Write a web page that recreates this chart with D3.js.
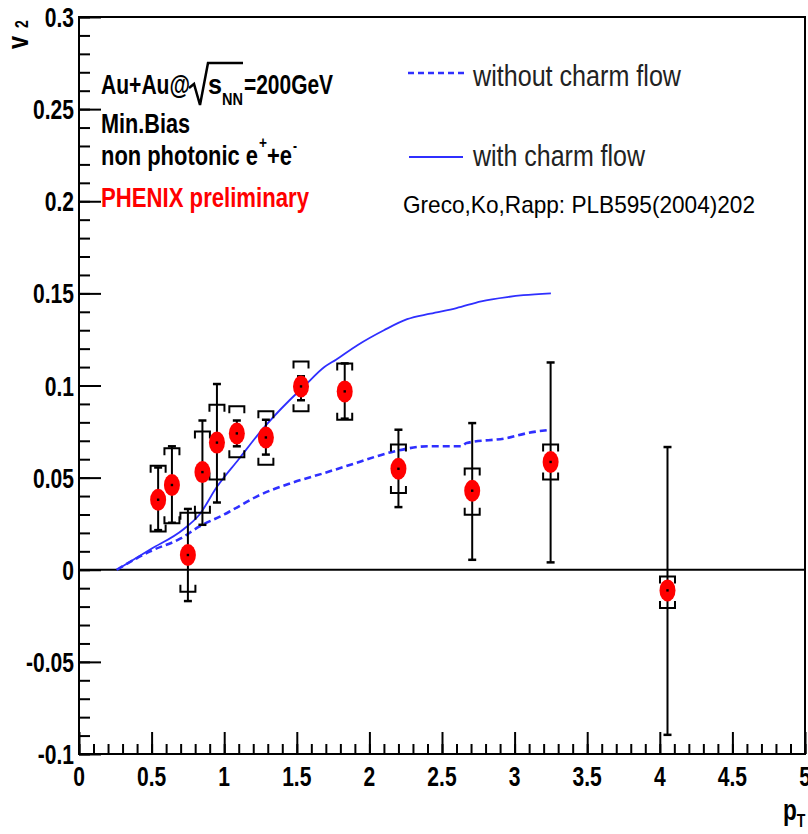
<!DOCTYPE html>
<html>
<head>
<meta charset="utf-8">
<script src="https://cdn.jsdelivr.net/npm/d3@7"></script>
<style>
  html, body { margin: 0; padding: 0; background: #fff; }
  svg { display: block; }
  text { font-family: "Liberation Sans", Arial, Helvetica, sans-serif; }
</style>
</head>
<body>
<div id="chart"></div>
<script>
// ---------------- data ----------------
const ptData   = [0.545, 0.64, 0.75, 0.85, 0.95, 1.087, 1.287, 1.529, 1.83, 2.2, 2.708, 3.248, 4.053];
const v2Data   = [0.038, 0.046, 0.008, 0.053, 0.069, 0.074, 0.0718, 0.0995, 0.0968, 0.0548, 0.0429, 0.0585, -0.0112];
const statHigh = [0.0555, 0.067, 0.033, 0.081, 0.1008, 0.081, 0.0814, 0.105, 0.112, 0.076, 0.0796, 0.1125, 0.0666];
const statLow  = [0.0215, 0.0255, -0.017, 0.0244, 0.0365, 0.067, 0.0625, 0.092, 0.082, 0.034, 0.0054, 0.004, -0.0896];
const sysHigh  = [0.0565, 0.066, 0.031, 0.075, 0.0896, 0.0887, 0.086, 0.113, 0.112, 0.068, 0.055, 0.068, -0.0036];
const sysLow   = [0.0208, 0.0253, -0.012, 0.031, 0.049, 0.061, 0.057, 0.086, 0.0814, 0.0416, 0.0298, 0.049, -0.0208];

// Greco, Ko, Rapp curves
const withFlowPt = [0.26, 0.49, 0.72, 0.83, 0.95, 1.1, 1.25, 1.45, 1.55, 1.69, 1.77, 1.92, 2.1, 2.26, 2.42, 2.6, 2.77, 2.95, 3.06, 3.25];
const withFlowV2 = [0.0, 0.011, 0.022, 0.030, 0.045, 0.060, 0.075, 0.092, 0.0995, 0.110, 0.114, 0.122, 0.130, 0.136, 0.139, 0.142, 0.1457, 0.148, 0.149, 0.150];
const noFlowPt = [0.26, 0.49, 0.70, 0.83, 1.0, 1.06, 1.23, 1.46, 1.69, 1.87, 1.94, 2.17, 2.4, 2.63, 2.67, 2.95, 3.09, 3.25];
const noFlowV2 = [0.0, 0.010, 0.017, 0.0235, 0.030, 0.0326, 0.040, 0.047, 0.0525, 0.057, 0.0588, 0.0642, 0.067, 0.067, 0.0688, 0.0715, 0.0742, 0.076];

const xTickValues = [0, 0.5, 1, 1.5, 2, 2.5, 3, 3.5, 4, 4.5, 5];
const xTickLabels = ["0", "0.5", "1", "1.5", "2", "2.5", "3", "3.5", "4", "4.5", "5"];
const yTickValues = [-0.1, -0.05, 0, 0.05, 0.1, 0.15, 0.2, 0.25, 0.3];
const yTickLabels = ["-0.1", "-0.05", "0", "0.05", "0.1", "0.15", "0.2", "0.25", "0.3"];

const legendLabels = ["without charm flow", "with charm flow"];
const infoLines = ["Min.Bias", "PHENIX preliminary"];
const citation = "Greco,Ko,Rapp: PLB595(2004)202";

// ---------------- layout ----------------
const W = 808, H = 834;
const L = 79, R = 805, T = 17, B = 754;
const blue = "#2f2fff";
const SX = 0.78; // horizontal squeeze of the original text

const svg = d3.select("#chart").append("svg").attr("width", W).attr("height", H);
svg.append("rect").attr("width", W).attr("height", H).attr("fill", "#fff");

const x = d3.scaleLinear().domain([0, 5]).range([L, R]);
const y = d3.scaleLinear().domain([-0.1, 0.3]).range([B, T]);

function stext(g, px, py, str, o) {
  o = o || {};
  return g.append("text")
    .attr("transform", `translate(${px},${py}) scale(${o.sx ?? SX},1)`)
    .attr("text-anchor", o.anchor || "start")
    .attr("font-size", o.size || 27)
    .attr("font-weight", o.weight || "bold")
    .attr("fill", o.fill || "#000")
    .text(str);
}

// ---------------- axes ----------------
const axG = svg.append("g");
axG.append("rect").attr("x", L).attr("y", T).attr("width", R - L).attr("height", B - T)
  .attr("fill", "none").attr("stroke", "#000").attr("stroke-width", 2);

const yMinor = d3.range(-10, 31).map(d => d / 100);
axG.append("g").attr("transform", `translate(${L},0)`)
  .call(d3.axisRight(y).tickValues(yMinor).tickSize(11).tickFormat(""))
  .call(g => g.select(".domain").remove())
  .call(g => g.selectAll("line").attr("stroke", "#000").attr("stroke-width", 2));
axG.append("g").attr("transform", `translate(${L},0)`)
  .call(d3.axisRight(y).tickValues(yTickValues).tickSize(22).tickFormat(""))
  .call(g => g.select(".domain").remove())
  .call(g => g.selectAll("line").attr("stroke", "#000").attr("stroke-width", 2));

const xMinor = d3.range(0, 51).map(d => d / 10);
axG.append("g").attr("transform", `translate(0,${B})`)
  .call(d3.axisTop(x).tickValues(xMinor).tickSize(10).tickFormat(""))
  .call(g => g.select(".domain").remove())
  .call(g => g.selectAll("line").attr("stroke", "#000").attr("stroke-width", 2));
axG.append("g").attr("transform", `translate(0,${B})`)
  .call(d3.axisTop(x).tickValues(xTickValues).tickSize(22).tickFormat(""))
  .call(g => g.select(".domain").remove())
  .call(g => g.selectAll("line").attr("stroke", "#000").attr("stroke-width", 2));

yTickValues.forEach((v, i) => stext(axG, 74, y(v) + 10, yTickLabels[i], { anchor: "end" }));
xTickValues.forEach((v, i) => stext(axG, x(v), 786, xTickLabels[i], { anchor: "middle" }));

axG.append("line").attr("x1", L).attr("x2", R).attr("y1", y(0)).attr("y2", y(0))
  .attr("stroke", "#000").attr("stroke-width", 2);

// axis titles (single text elements with subscript tspans)
const vt = axG.append("text").attr("transform", `translate(28,49) rotate(-90) scale(${SX},1)`)
  .attr("font-size", 30).attr("font-weight", "bold");
vt.append("tspan").text("v");
vt.append("tspan").attr("x", 27).attr("font-size", 18).text("2");
const pt = axG.append("text").attr("transform", `translate(783,820) scale(${SX},1)`)
  .attr("font-size", 29).attr("font-weight", "bold");
pt.append("tspan").text("p");
pt.append("tspan").attr("dy", 7).attr("font-size", 18).text("T");

// ---------------- curves ----------------
const line = d3.line().x(d => x(d[0])).y(d => y(d[1])).curve(d3.curveMonotoneX);
svg.append("path").datum(d3.zip(noFlowPt, noFlowV2)).attr("d", line)
  .attr("fill", "none").attr("stroke", blue).attr("stroke-width", 2.6).attr("stroke-dasharray", "7,4");
svg.append("path").datum(d3.zip(withFlowPt, withFlowV2)).attr("d", line)
  .attr("fill", "none").attr("stroke", blue).attr("stroke-width", 1.8);

// ---------------- data points ----------------
const pts = ptData.map((p, i) => ({ p, v: v2Data[i], sh: statHigh[i], sl: statLow[i], yh: sysHigh[i], yl: sysLow[i] }));
const dg = svg.append("g");
dg.selectAll(".stat").data(pts).join("line").attr("class", "stat")
  .attr("x1", d => x(d.p)).attr("x2", d => x(d.p)).attr("y1", d => y(d.sh)).attr("y2", d => y(d.sl))
  .attr("stroke", "#000").attr("stroke-width", 2);
["sh", "sl"].forEach(k => {
  dg.selectAll(".cap" + k).data(pts).join("line").attr("class", "cap" + k)
    .attr("x1", d => x(d.p) - 4).attr("x2", d => x(d.p) + 4).attr("y1", d => y(d[k])).attr("y2", d => y(d[k]))
    .attr("stroke", "#000").attr("stroke-width", 2.5);
});
const bw = 7.5, leg = 7;
dg.selectAll(".sysT").data(pts).join("path").attr("class", "sysT")
  .attr("d", d => { const cx = x(d.p), cy = y(d.yh); return `M${cx - bw},${cy + leg}V${cy}H${cx + bw}V${cy + leg}`; })
  .attr("fill", "none").attr("stroke", "#000").attr("stroke-width", 2);
dg.selectAll(".sysB").data(pts).join("path").attr("class", "sysB")
  .attr("d", d => { const cx = x(d.p), cy = y(d.yl); return `M${cx - bw},${cy - leg}V${cy}H${cx + bw}V${cy - leg}`; })
  .attr("fill", "none").attr("stroke", "#000").attr("stroke-width", 2);
dg.selectAll(".mk").data(pts).join("ellipse").attr("class", "mk")
  .attr("cx", d => x(d.p)).attr("cy", d => y(d.v)).attr("rx", 8).attr("ry", 11).attr("fill", "#ff0000");
dg.selectAll(".dot").data(pts).join("rect").attr("class", "dot")
  .attr("x", d => x(d.p) - 1.2).attr("y", d => y(d.v) - 1.2).attr("width", 2.4).attr("height", 2.4).attr("fill", "#000");

// ---------------- text block ----------------
const tg = svg.append("g");
tg.append("path").attr("d", "M189,88 L194,84 L200,105 L208,63 L243,63")
  .attr("fill", "none").attr("stroke", "#000").attr("stroke-width", 2.5);
const l1 = tg.append("text").attr("x", 101).attr("y", 94).attr("font-size", 27).attr("font-weight", "bold");
l1.append("tspan").attr("textLength", 89).attr("lengthAdjust", "spacingAndGlyphs").text("Au+Au@");
l1.append("tspan").attr("x", 208).attr("textLength", 14).attr("lengthAdjust", "spacingAndGlyphs").text("s");
l1.append("tspan").attr("x", 222).attr("dy", 11).attr("font-size", 17)
  .attr("textLength", 21).attr("lengthAdjust", "spacingAndGlyphs").text("NN");
l1.append("tspan").attr("x", 244).attr("dy", -11)
  .attr("textLength", 89).attr("lengthAdjust", "spacingAndGlyphs").text("=200GeV");

tg.append("text").attr("x", 101).attr("y", 133).attr("font-size", 27).attr("font-weight", "bold")
  .attr("textLength", 89).attr("lengthAdjust", "spacingAndGlyphs").text(infoLines[0]);

const l3 = tg.append("text").attr("x", 101).attr("y", 165).attr("font-size", 27).attr("font-weight", "bold");
l3.append("tspan").attr("textLength", 157).attr("lengthAdjust", "spacingAndGlyphs").text("non photonic e");
l3.append("tspan").attr("x", 259).attr("dy", -17).attr("font-size", 17)
  .attr("textLength", 8).attr("lengthAdjust", "spacingAndGlyphs").text("+");
l3.append("tspan").attr("x", 267).attr("dy", 17)
  .attr("textLength", 25).attr("lengthAdjust", "spacingAndGlyphs").text("+e");
l3.append("tspan").attr("x", 293).attr("dy", -14).attr("font-size", 17)
  .attr("textLength", 4).attr("lengthAdjust", "spacingAndGlyphs").text("-");

tg.append("text").attr("x", 101).attr("y", 207).attr("font-size", 27).attr("font-weight", "bold")
  .attr("fill", "#ff0000")
  .attr("textLength", 208).attr("lengthAdjust", "spacingAndGlyphs").text(infoLines[1]);

// ---------------- legend ----------------
const lg = svg.append("g");
lg.append("line").attr("x1", 408).attr("x2", 464).attr("y1", 73).attr("y2", 73)
  .attr("stroke", blue).attr("stroke-width", 2.6).attr("stroke-dasharray", "6,4");
lg.append("line").attr("x1", 409).attr("x2", 463).attr("y1", 157).attr("y2", 157)
  .attr("stroke", blue).attr("stroke-width", 2.2);
lg.append("text").attr("x", 473).attr("y", 86).attr("font-size", 30).attr("fill", "#222")
  .attr("textLength", 208).attr("lengthAdjust", "spacingAndGlyphs").text(legendLabels[0]);
lg.append("text").attr("x", 473).attr("y", 166).attr("font-size", 30).attr("fill", "#222")
  .attr("textLength", 172).attr("lengthAdjust", "spacingAndGlyphs").text(legendLabels[1]);
lg.append("text").attr("x", 403).attr("y", 213).attr("font-size", 24).attr("fill", "#000")
  .attr("textLength", 352).attr("lengthAdjust", "spacingAndGlyphs").text(citation);
</script>
</body>
</html>
